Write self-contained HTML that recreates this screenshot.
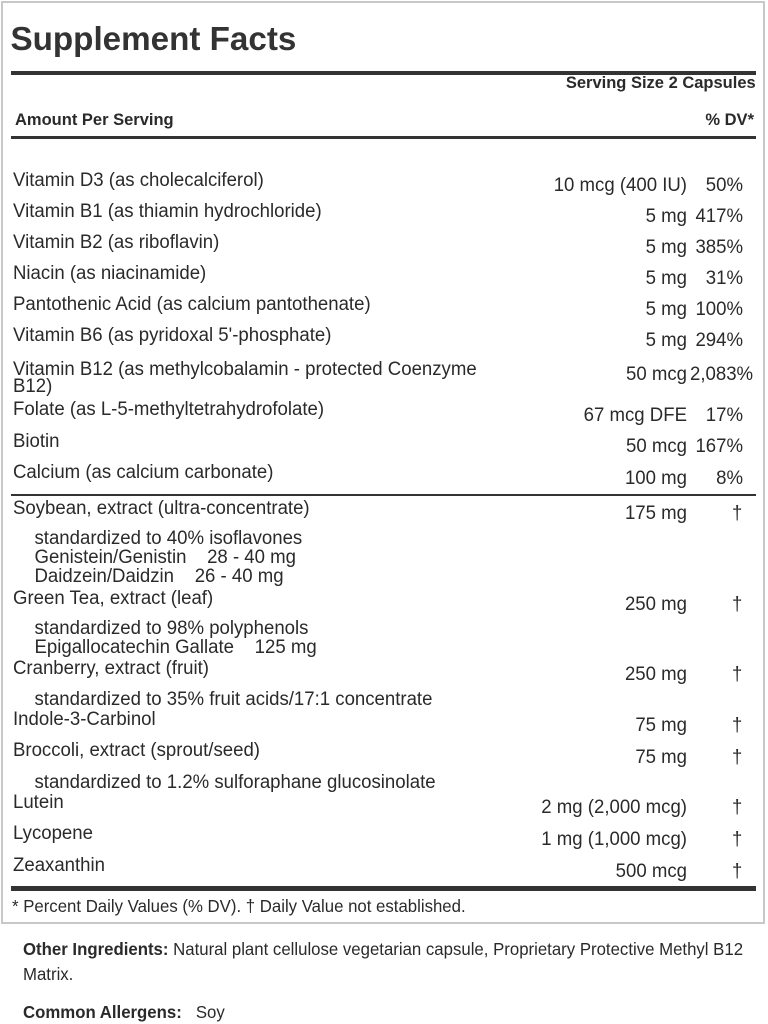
<!DOCTYPE html>
<html>
<head>
<meta charset="utf-8">
<style>
  html, body { margin:0; padding:0; background:#fff; }
  body { width:768px; height:1024px; position:relative; overflow:hidden;
         font-family:"Liberation Sans", Arial, sans-serif; color:#2a2a2a; }
  .box { position:absolute; left:1px; top:1px; width:764px; height:923px;
         border:2px solid #c8c8c8; box-sizing:border-box; }
  .bar { position:absolute; background:#333; }
  .t { position:absolute; white-space:nowrap; line-height:1; }
  .b { font-size:18.6px; line-height:18.6px; transform:scaleY(1.05); transform-origin:0 15.75px; }
  .h { font-size:16.5px; line-height:16.5px; font-weight:bold; }
  .s { font-size:16.8px; line-height:16.8px; transform:scaleY(1.05); transform-origin:0 14.2px; }
  .r1 { right:81px; transform-origin:100% 15.75px; }
  .r2 { right:25px; transform-origin:100% 15.75px; }
  .dg { left:732px; }
</style>
</head>
<body>
<div class="box"></div>

<div class="t" style="left:10.5px;top:22.9px;font-size:33.2px;line-height:33.2px;font-weight:bold;color:#333;">Supplement Facts</div>

<div class="bar" style="left:11px;top:71px;width:745px;height:4px;"></div>
<div class="t h" style="right:12.3px;top:74.5px;">Serving Size 2 Capsules</div>
<div class="t h" style="left:15px;top:112px;">Amount Per Serving</div>
<div class="t h" style="right:14px;top:112px;">% DV*</div>
<div class="bar" style="left:11px;top:136px;width:745px;height:3px;"></div>

<!-- Vitamins -->
<div class="t b" style="left:13px;top:170.9px;">Vitamin D3 (as cholecalciferol)</div>
<div class="t b r1" style="top:176.4px;">10 mcg (400 IU)</div>
<div class="t b r2" style="top:176.4px;">50%</div>

<div class="t b" style="left:13px;top:201.5px;">Vitamin B1 (as thiamin hydrochloride)</div>
<div class="t b r1" style="top:207px;">5 mg</div>
<div class="t b r2" style="top:207px;">417%</div>

<div class="t b" style="left:13px;top:232.5px;">Vitamin B2 (as riboflavin)</div>
<div class="t b r1" style="top:238px;">5 mg</div>
<div class="t b r2" style="top:238px;">385%</div>

<div class="t b" style="left:13px;top:263.5px;">Niacin (as niacinamide)</div>
<div class="t b r1" style="top:269px;">5 mg</div>
<div class="t b r2" style="top:269px;">31%</div>

<div class="t b" style="left:13px;top:294.9px;">Pantothenic Acid (as calcium pantothenate)</div>
<div class="t b r1" style="top:300.4px;">5 mg</div>
<div class="t b r2" style="top:300.4px;">100%</div>

<div class="t b" style="left:13px;top:325.9px;">Vitamin B6 (as pyridoxal 5'-phosphate)</div>
<div class="t b r1" style="top:331.4px;">5 mg</div>
<div class="t b r2" style="top:331.4px;">294%</div>

<div class="t b" style="left:13px;top:359.7px;">Vitamin B12 (as methylcobalamin - protected Coenzyme</div>
<div class="t b" style="left:13px;top:376.7px;">B12)</div>
<div class="t b r1" style="top:365.3px;">50 mcg</div>
<div class="t b" style="left:690px;top:365.3px;">2,083%</div>

<div class="t b" style="left:13px;top:400.2px;">Folate (as L-5-methyltetrahydrofolate)</div>
<div class="t b r1" style="top:405.7px;">67 mcg DFE</div>
<div class="t b r2" style="top:405.7px;">17%</div>

<div class="t b" style="left:13px;top:431.7px;">Biotin</div>
<div class="t b r1" style="top:437.2px;">50 mcg</div>
<div class="t b r2" style="top:437.2px;">167%</div>

<div class="t b" style="left:13px;top:463.2px;">Calcium (as calcium carbonate)</div>
<div class="t b r1" style="top:468.7px;">100 mg</div>
<div class="t b r2" style="top:468.7px;">8%</div>

<div class="bar" style="left:11px;top:494px;width:745px;height:2px;"></div>

<!-- Other ingredients -->
<div class="t b" style="left:13px;top:499.2px;">Soybean, extract (ultra-concentrate)</div>
<div class="t b r1" style="top:503.5px;">175 mg</div>
<div class="t b dg" style="top:503.5px;">†</div>
<div class="t b" style="left:34.5px;top:529.2px;">standardized to 40% isoflavones</div>
<div class="t b" style="left:34.5px;top:547.5px;">Genistein/Genistin&nbsp;&nbsp;&nbsp; 28 - 40 mg</div>
<div class="t b" style="left:34.5px;top:566.9px;">Daidzein/Daidzin&nbsp;&nbsp;&nbsp; 26 - 40 mg</div>

<div class="t b" style="left:13px;top:588.7px;">Green Tea, extract (leaf)</div>
<div class="t b r1" style="top:595px;">250 mg</div>
<div class="t b dg" style="top:595px;">†</div>
<div class="t b" style="left:34.5px;top:619.2px;">standardized to 98% polyphenols</div>
<div class="t b" style="left:34.5px;top:638.2px;">Epigallocatechin Gallate&nbsp;&nbsp;&nbsp; 125 mg</div>

<div class="t b" style="left:13px;top:659.2px;">Cranberry, extract (fruit)</div>
<div class="t b r1" style="top:665px;">250 mg</div>
<div class="t b dg" style="top:665px;">†</div>
<div class="t b" style="left:34.5px;top:690.2px;">standardized to 35% fruit acids/17:1 concentrate</div>

<div class="t b" style="left:13px;top:710.2px;">Indole-3-Carbinol</div>
<div class="t b r1" style="top:716px;">75 mg</div>
<div class="t b dg" style="top:716px;">†</div>

<div class="t b" style="left:13px;top:740.9px;">Broccoli, extract (sprout/seed)</div>
<div class="t b r1" style="top:747.6px;">75 mg</div>
<div class="t b dg" style="top:747.6px;">†</div>
<div class="t b" style="left:34.5px;top:772.7px;">standardized to 1.2% sulforaphane glucosinolate</div>

<div class="t b" style="left:13px;top:793.2px;">Lutein</div>
<div class="t b r1" style="top:797.6px;">2 mg (2,000 mcg)</div>
<div class="t b dg" style="top:797.6px;">†</div>

<div class="t b" style="left:13px;top:824.2px;">Lycopene</div>
<div class="t b r1" style="top:830px;">1 mg (1,000 mcg)</div>
<div class="t b dg" style="top:830px;">†</div>

<div class="t b" style="left:13px;top:855.9px;">Zeaxanthin</div>
<div class="t b r1" style="top:861.6px;">500 mcg</div>
<div class="t b dg" style="top:861.6px;">†</div>

<div class="bar" style="left:11px;top:886px;width:745px;height:5px;"></div>

<div class="t s" style="left:12px;top:898.8px;">* Percent Daily Values (% DV). † Daily Value not established.</div>

<div class="t s" style="left:23px;top:941.8px;"><b>Other Ingredients:</b> Natural plant cellulose vegetarian capsule, Proprietary Protective Methyl B12</div>
<div class="t s" style="left:23px;top:966.8px;">Matrix.</div>

<div class="t s" style="left:23px;top:1004.8px;"><b>Common Allergens:</b>&nbsp;&nbsp; Soy</div>
</body>
</html>
